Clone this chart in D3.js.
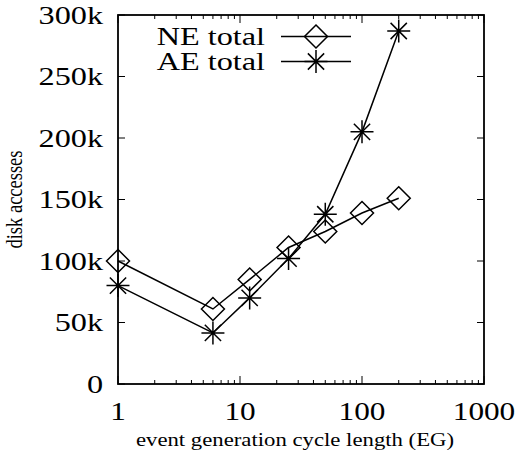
<!DOCTYPE html>
<html>
<head>
<meta charset="utf-8">
<script src="https://cdn.jsdelivr.net/npm/d3@7"></script>
<style>
  html, body { margin: 0; padding: 0; background: #fff; }
  svg { display: block; }
</style>
</head>
<body>
<svg id="chart" width="521" height="457"></svg>
<script>
// Event generation cycle lengths (EG) and total disk accesses per scheme
const cycleLengths = [1, 6, 12, 25, 50, 100, 200];
const neTotal = [100000, 61000, 85000, 111000, 124000, 139000, 151000];
const aeTotal = [80000, 41500, 70000, 102000, 138000, 205000, 287000];
const xTickValues = [1, 10, 100, 1000];
const yTickValues = [0, 50000, 100000, 150000, 200000, 250000, 300000];
const yTickLabels = ["0", "50k", "100k", "150k", "200k", "250k", "300k"];
const seriesNames = ["NE total", "AE total"];

const svg = d3.select("#chart");
const plot = { left: 118, right: 484, top: 15, bottom: 384 };

const x = d3.scaleLog().domain([1, 1000]).range([plot.left, plot.right]);
const y = d3.scaleLinear().domain([0, 300000]).range([plot.bottom, plot.top]);

const black = "#000";
const serif = "'Liberation Serif', 'Times New Roman', Times, serif";
const tickFont = 25;
const titleFont = 18.5;

// Places a horizontally widened text label at (px, py)
function label(parent, px, py, str, size, anchor, stretch, rotate) {
  return parent.append("text")
    .attr("transform", `translate(${px},${py}) scale(${stretch},1)` + (rotate ? ` rotate(${rotate})` : ""))
    .attr("font-family", serif)
    .attr("font-size", size)
    .attr("fill", black)
    .attr("text-anchor", anchor)
    .text(str);
}

// Minor log ticks (2..9 per decade)
const minorTicks = [];
for (let d = 1; d < 1000; d *= 10) {
  for (let m = 2; m <= 9; m++) minorTicks.push(d * m);
}

const ticks = svg.append("g").attr("stroke", black).attr("stroke-width", 1);
// x ticks, bottom and mirrored top, pointing inward
xTickValues.forEach(v => {
  ticks.append("line").attr("x1", x(v)).attr("x2", x(v)).attr("y1", plot.bottom).attr("y2", plot.bottom - 8);
  ticks.append("line").attr("x1", x(v)).attr("x2", x(v)).attr("y1", plot.top).attr("y2", plot.top + 8);
});
minorTicks.forEach(v => {
  ticks.append("line").attr("x1", x(v)).attr("x2", x(v)).attr("y1", plot.bottom).attr("y2", plot.bottom - 4);
  ticks.append("line").attr("x1", x(v)).attr("x2", x(v)).attr("y1", plot.top).attr("y2", plot.top + 4);
});
// y ticks, left and mirrored right
yTickValues.forEach(v => {
  ticks.append("line").attr("x1", plot.left).attr("x2", plot.left + 7).attr("y1", y(v)).attr("y2", y(v));
  ticks.append("line").attr("x1", plot.right).attr("x2", plot.right - 7).attr("y1", y(v)).attr("y2", y(v));
});

// Frame
svg.append("rect")
  .attr("x", plot.left).attr("y", plot.top)
  .attr("width", plot.right - plot.left).attr("height", plot.bottom - plot.top)
  .attr("fill", "none").attr("stroke", black).attr("stroke-width", 1.8);

// Tick labels
const yLabels = svg.append("g");
yTickValues.forEach((v, i) => label(yLabels, plot.left - 15, y(v) + 8.5, yTickLabels[i], tickFont, "end", 1.29));

const xLabels = svg.append("g");
xTickValues.forEach(v => label(xLabels, x(v), 420, String(v), tickFont, "middle", 1.25));

// Axis titles
label(svg, 295, 446, "event generation cycle length (EG)", titleFont, "middle", 1.23);
label(svg, 22, (plot.top + plot.bottom) / 2, "disk accesses", titleFont, "middle", 1.23, -90);

// Marker shapes
const markerR = 11.5;
function drawDiamond(g, cx, cy) {
  g.append("path")
    .attr("d", `M${cx},${cy - markerR}L${cx + markerR},${cy}L${cx},${cy + markerR}L${cx - markerR},${cy}Z`)
    .attr("fill", "none").attr("stroke", black).attr("stroke-width", 1.5);
}
function drawStar(g, cx, cy) {
  const r = markerR, k = r * 0.7071;
  g.append("path")
    .attr("d", `M${cx - r},${cy}L${cx + r},${cy}M${cx},${cy - r}L${cx},${cy + r}` +
               `M${cx - k},${cy - k}L${cx + k},${cy + k}M${cx - k},${cy + k}L${cx + k},${cy - k}`)
    .attr("fill", "none").attr("stroke", black).attr("stroke-width", 1.5);
}

const line = d3.line().x(d => x(d[0])).y(d => y(d[1]));
const series = [
  { name: seriesNames[0], values: neTotal, marker: drawDiamond },
  { name: seriesNames[1], values: aeTotal, marker: drawStar }
];

series.forEach(s => {
  const pts = cycleLengths.map((c, i) => [c, s.values[i]]);
  const g = svg.append("g");
  g.append("path").attr("d", line(pts))
    .attr("fill", "none").attr("stroke", black).attr("stroke-width", 1.5);
  pts.forEach(p => s.marker(g, x(p[0]), y(p[1])));
});

// Legend
const legend = svg.append("g");
series.forEach((s, i) => {
  const ly = 36.5 + i * 25;
  label(legend, 265, ly + 8.5, s.name, tickFont, "end", 1.29);
  legend.append("line")
    .attr("x1", 281).attr("x2", 351).attr("y1", ly).attr("y2", ly)
    .attr("stroke", black).attr("stroke-width", 1.5);
  s.marker(legend, 316, ly);
});
</script>
</body>
</html>
